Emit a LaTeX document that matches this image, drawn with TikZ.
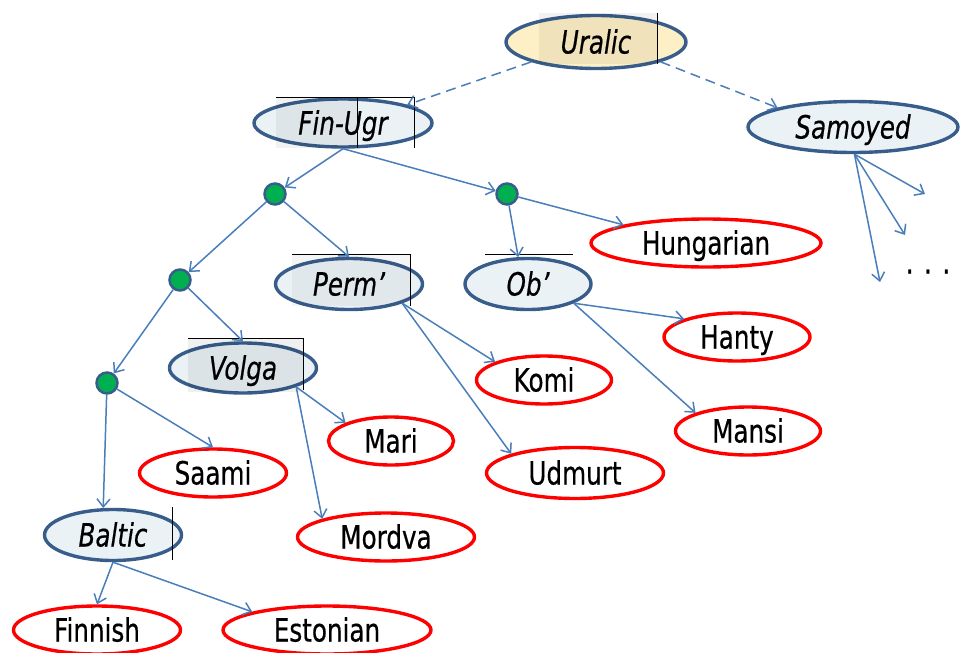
\documentclass[tikz,border=0pt]{standalone}
\usepackage{fontspec}
\setmainfont{DejaVu Sans}[FakeStretch=0.77, FakeBold=0.5]
\usepackage{tikz}
\usetikzlibrary{arrows.meta, shapes.geometric}

\definecolor{linkblue}{HTML}{4A7EBB}
\definecolor{rimblue}{HTML}{385D8A}
\definecolor{paleblue}{HTML}{EAF2F6}
\definecolor{paletan}{HTML}{FDEFC6}
\definecolor{leafred}{HTML}{FF0000}
\definecolor{dotgreen}{HTML}{00B050}

\begin{document}
\begin{tikzpicture}[x=1pt, y=-1pt,
    every node/.style={font=\fontsize{32}{38}\selectfont, text height=23pt, text depth=0pt, inner sep=0pt},
    group/.style={ellipse, draw=rimblue, line width=3.4pt, fill=paleblue, font=\fontsize{32}{38}\selectfont\itshape},
    lang/.style={ellipse, draw=leafred, line width=3.4pt, fill=white, minimum height=48pt},
    split/.style={circle, draw=rimblue, line width=2.5pt, fill=dotgreen, text height=0pt, minimum size=21pt},
    link/.style={draw=linkblue, line width=1.5pt, -{Straight Barb[length=8pt,width=13pt]}},
    tbox/.style={black, line width=1pt}]
    \useasboundingbox (0,0) rectangle (961,653);

    % Language groups
    \node[group, fill=paletan, minimum width=180pt, minimum height=53pt] (uralic) at (596,42) {Uralic};
    \node[group, minimum width=178pt, minimum height=48pt] (finugr) at (343,123) {Fin-Ugr};
    \node[group, minimum width=210pt, minimum height=51pt] (samoyed) at (853,127) {Samoyed};
    \node[group, minimum width=147pt, minimum height=51pt] (perm) at (349,284) {Perm’};
    \node[group, minimum width=126pt, minimum height=51pt] (ob) at (528,284) {Ob’};
    \node[group, minimum width=147pt, minimum height=50pt] (volga) at (243,368) {Volga};
    \node[group, minimum width=137pt, minimum height=51pt] (baltic) at (113,535) {Baltic};

    % Branching points
    \node[split] (s1) at (275,194) {};
    \node[split] (s2) at (507,194) {};
    \node[split] (s3) at (180,280) {};
    \node[split] (s4) at (107,383) {};

    % Languages
    \node[lang, minimum width=230pt] (hungarian) at (706,243) {Hungarian};
    \node[lang, minimum width=146pt] (hanty) at (737,337) {Hanty};
    \node[lang, minimum width=135pt] (komi) at (544,380) {Komi};
    \node[lang, minimum width=125pt] (mari) at (391,441) {Mari};
    \node[lang, minimum width=145pt] (mansi) at (748,431) {Mansi};
    \node[lang, minimum width=147pt] (saami) at (213,473) {Saami};
    \node[lang, minimum width=177pt, minimum height=51pt] (udmurt) at (575,473) {Udmurt};
    \node[lang, minimum width=177pt] (mordva) at (386,537) {Mordva};
    \node[lang, minimum width=167pt] (finnish) at (97,630) {Finnish};
    \node[lang, minimum width=208pt] (estonian) at (327,630) {Estonian};

    % Text box edges on some labels
    \fill[black, opacity=0.05] (539,13) rectangle (657,64);
    \fill[black, opacity=0.05] (276,97) rectangle (357,148);
    \fill[black, opacity=0.04] (292,254) rectangle (410,306);
    \fill[black, opacity=0.06] (188,338) rectangle (303,392);
    \draw[tbox] (657,13) -- (657,64);
    \draw[tbox] (276,97) -- (414,97) -- (414,148);
    \draw[tbox] (357,97) -- (357,148);
    \draw[tbox] (292,254) -- (410,254) -- (410,306);
    \draw[tbox] (485,254) -- (573,254);
    \draw[tbox] (188,338) -- (303,338) -- (303,390);
    \draw[tbox] (172,507) -- (172,560);

    % Top split (dashed)
    \draw[link, dash pattern=on 10pt off 6pt] (uralic.south west) -- (finugr.north east);
    \draw[link, dash pattern=on 10pt off 6pt] (uralic.south east) -- (samoyed.north west);

    % Finno-Ugric branches
    \draw[link] (finugr.south) -- (s1);
    \draw[link] (finugr.south) -- (s2);
    \draw[link] (s1) -- (s3);
    \draw[link] (s1) -- (perm.north);
    \draw[link] (s2) -- (ob.110);
    \draw[link] (s2) -- (hungarian.north west);
    \draw[link] (s3) -- (s4);
    \draw[link] (s3) -- (volga.north);
    \draw[link] (s4) -- (baltic.110);
    \draw[link] (s4) -- (saami.north);

    % Leaves
    \draw[link] (volga.south east) -- (mari.north west);
    \draw[link] (volga.south east) -- (mordva.north west);
    \draw[link] (perm.south east) -- (komi.north west);
    \draw[link] (perm.south east) -- (udmurt.north west);
    \draw[link] (ob.south east) -- (hanty.north west);
    \draw[link] (ob.south east) -- (mansi.north west);
    \draw[link] (baltic.south) -- (finnish.north);
    \draw[link] (baltic.south) -- (estonian.north west);

    % Samoyed, left open
    \coordinate (f1) at (925,194);
    \coordinate (f2) at (905,235);
    \coordinate (f3) at (880,282);
    \draw[link] (samoyed.-87) -- (f1);
    \draw[link] (samoyed.-87) -- (f2);
    \draw[link] (samoyed.-87) -- (f3);
    \node (more) at (928,262) {. . .};
\end{tikzpicture}
\end{document}
